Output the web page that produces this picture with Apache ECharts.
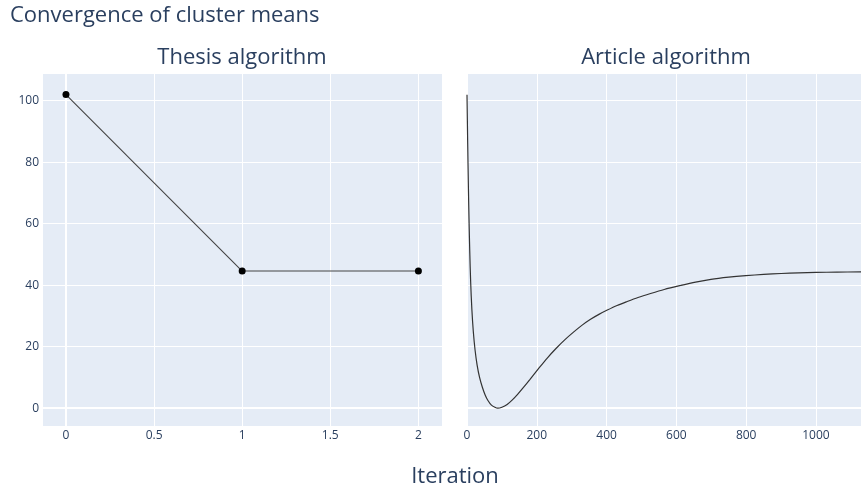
<!DOCTYPE html>
<html>
<head>
<meta charset="utf-8">
<script src="https://cdn.jsdelivr.net/npm/echarts@6/dist/echarts.min.js"></script>
<style>
  html, body { margin: 0; padding: 0; background: #fff; }
  #chart { width: 861px; height: 488px; }
</style>
</head>
<body>
<div id="chart"></div>
<script>
// Thesis algorithm: mean distance per iteration
const thesisIter = [0, 1, 2];
const thesisMeans = [102.0, 44.6, 44.6];

// Article algorithm: mean distance per iteration
const articleIter = [0, 2, 4, 6, 8, 10.5, 14, 18, 23, 29, 36, 44, 52, 60, 70, 80, 88, 100, 115, 130, 145, 160, 180, 206, 230, 255, 280, 306, 330, 354, 378, 402, 430, 459, 490, 526, 565, 612, 655, 699, 750, 799, 850, 900, 950, 1000, 1060, 1129];
const articleMeans = [101.9, 86, 72, 60.2, 50.5, 41, 32, 25, 19, 14, 10, 6.8, 4.3, 2.5, 1.0, 0.3, 0.0, 0.3, 1.2, 2.7, 4.5, 6.5, 9.3, 13.0, 16.3, 19.4, 22.2, 24.8, 27.0, 28.9, 30.5, 31.9, 33.4, 34.7, 36.0, 37.3, 38.6, 39.9, 41.0, 41.9, 42.6, 43.1, 43.5, 43.8, 44.0, 44.15, 44.25, 44.3];

const FONT = '"Open Sans", "Liberation Sans", sans-serif';
const TXT = '#2a3f5f';
const Y_MIN = -5.8, Y_MAX = 109;

const pair = (xs, ys) => xs.map((x, i) => [x, ys[i]]);

const axisCommon = {
  type: 'value',
  axisTick: { show: false },
  axisLine: { show: true, onZero: true, lineStyle: { color: '#fff', width: 2 } },
  splitLine: { show: true, lineStyle: { color: '#fff', width: 1 } },
  axisLabel: { color: TXT, fontFamily: FONT, fontSize: 12, showMinLabel: false, showMaxLabel: false,
    formatter: v => String(v) }
};

const titleStyle = { fontFamily: FONT, fontSize: 22, fontWeight: 'normal', color: TXT };

const chart = echarts.init(document.getElementById('chart'), null, { renderer: 'canvas' });

chart.setOption({
  animation: false,
  backgroundColor: '#fff',
  title: [
    { text: 'Convergence of cluster means', left: 5, top: 0, textStyle: titleStyle },
    { text: 'Thesis algorithm', left: 237, top: 42, textAlign: 'center', textStyle: titleStyle },
    { text: 'Article algorithm', left: 661, top: 42, textAlign: 'center', textStyle: titleStyle },
    { text: 'Iteration', left: 450, top: 461, textAlign: 'center', textStyle: titleStyle }
  ],
  grid: [
    { left: 42, top: 73, width: 400, height: 353, show: true, backgroundColor: '#E5ECF6', borderWidth: 0 },
    { left: 467, top: 73, width: 394, height: 353, show: true, backgroundColor: '#E5ECF6', borderWidth: 0 }
  ],
  xAxis: [
    Object.assign({}, axisCommon, { gridIndex: 0, min: -0.136, max: 2.134,
      axisLabel: Object.assign({}, axisCommon.axisLabel, { margin: 4 }) }),
    Object.assign({}, axisCommon, { gridIndex: 1, min: 0, max: 1129,
      axisLabel: Object.assign({}, axisCommon.axisLabel, { margin: 4, showMinLabel: true }) })
  ],
  yAxis: [
    Object.assign({}, axisCommon, { gridIndex: 0, min: Y_MIN, max: Y_MAX,
      axisLabel: Object.assign({}, axisCommon.axisLabel, { margin: 3 }) }),
    Object.assign({}, axisCommon, { gridIndex: 1, min: Y_MIN, max: Y_MAX,
      axisLabel: { show: false } })
  ],
  series: [
    {
      type: 'line', xAxisIndex: 0, yAxisIndex: 0,
      data: pair(thesisIter, thesisMeans),
      symbol: 'circle', symbolSize: 7,
      itemStyle: { color: '#000' },
      lineStyle: { color: '#444', width: 1.1 }
    },
    {
      type: 'line', xAxisIndex: 1, yAxisIndex: 1,
      data: pair(articleIter, articleMeans),
      showSymbol: false, smooth: 0.3,
      lineStyle: { color: '#333', width: 1.2 }
    }
  ]
});
</script>
</body>
</html>
